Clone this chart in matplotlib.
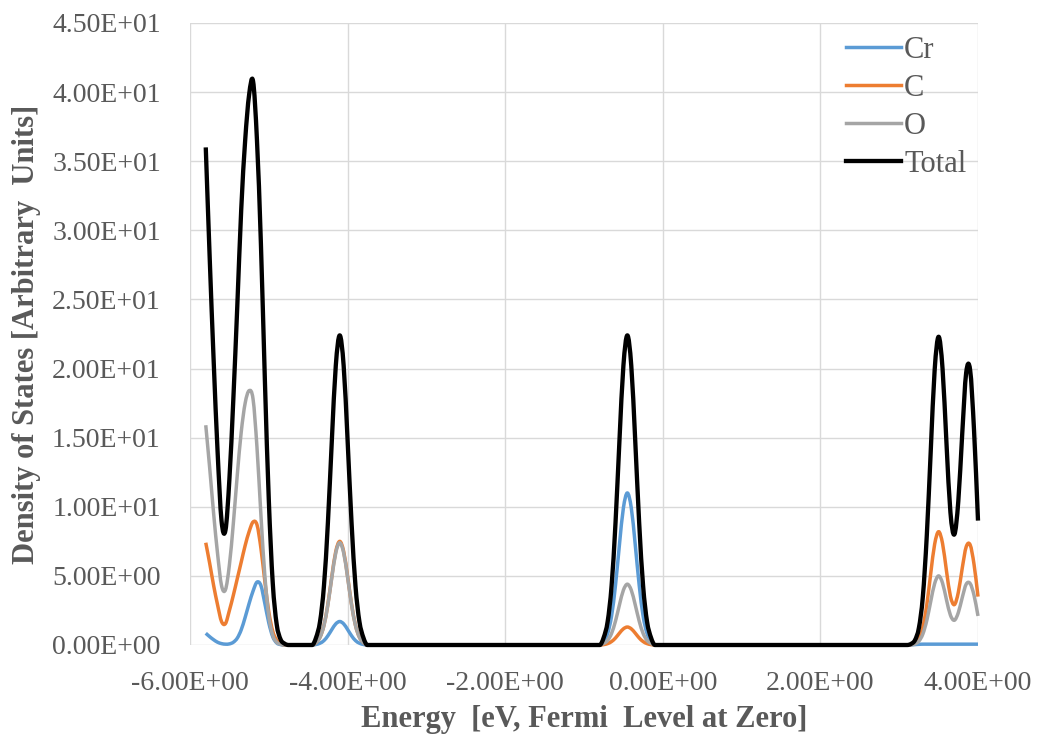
import numpy as np
import matplotlib
matplotlib.use("Agg")
import matplotlib.pyplot as plt
from matplotlib.path import Path
from matplotlib.patches import PathPatch
from matplotlib.lines import Line2D
from matplotlib.ticker import FuncFormatter

# ---------------- data ----------------
series_names = ["Cr", "C", "O", "Total"]

energy_r1 = [-5.80, -5.75, -5.70, -5.65, -5.60, -5.55, -5.50, -5.45, -5.40, -5.35,
             -5.30, -5.25, -5.20, -5.15, -5.10, -5.05, -5.00, -4.95, -4.90, -4.85,
             -4.80, -4.75, -4.70]
energy_r2 = [-4.45, -4.40, -4.35, -4.30, -4.25, -4.20, -4.15, -4.10, -4.05, -4.00,
             -3.95, -3.90, -3.85, -3.80, -3.75]
energy_r3 = [-0.80, -0.75, -0.70, -0.65, -0.60, -0.55, -0.50, -0.45, -0.40, -0.35,
             -0.30, -0.25, -0.20, -0.15, -0.10]
energy_r4 = [3.10, 3.15, 3.20, 3.25, 3.30, 3.35, 3.40, 3.45, 3.50, 3.55,
             3.60, 3.65, 3.70, 3.75, 3.80, 3.85, 3.90, 3.95, 4.00]

cr_r1 = [0.85, 0.60, 0.38, 0.20, 0.10, 0.06, 0.08, 0.20, 0.50, 1.10,
         2.00, 3.00, 3.90, 4.55, 4.30, 3.00, 1.60, 0.60, 0.15, 0.03, 0, 0, 0]
cr_r2 = [0, 0.04, 0.13, 0.32, 0.67, 1.12, 1.53, 1.70, 1.53, 1.12, 0.67, 0.32, 0.13, 0.04, 0]
cr_r3 = [0, 0.27, 0.83, 2.1, 4.35, 7.27, 9.92, 11.0, 9.92, 7.27, 4.35, 2.1, 0.83, 0.27, 0]
cr_r4 = [0, 0.01, 0.03, 0.05, 0.06, 0.06, 0.06, 0.06, 0.06, 0.06,
         0.06, 0.06, 0.06, 0.06, 0.06, 0.06, 0.06, 0.06, 0.06]

c_r1 = [7.4, 5.9, 4.3, 2.9, 1.7, 1.55, 2.5, 3.6, 4.8, 6.0,
        7.2, 8.2, 8.9, 8.7, 7.0, 4.6, 2.4, 1.0, 0.35, 0.10, 0, 0, 0]
c_r2 = [0, 0.18, 0.57, 1.43, 2.96, 4.96, 6.77, 7.5, 6.77, 4.96, 2.96, 1.43, 0.57, 0.18, 0]
c_r3 = [0, 0.03, 0.10, 0.25, 0.51, 0.86, 1.17, 1.3, 1.17, 0.86, 0.51, 0.25, 0.10, 0.03, 0]
c_r4 = [0, 0.03, 0.13, 0.46, 1.29, 2.9, 5.17, 7.3, 8.2, 7.35,
        5.36, 3.53, 2.92, 3.8, 5.56, 7.1, 7.25, 5.82, 3.5]

o_r1 = [15.9, 12.8, 9.5, 6.6, 4.3, 4.0, 5.8, 8.8, 12.3, 15.4,
        17.5, 18.4, 17.8, 14.3, 9.4, 5.0, 2.1, 0.7, 0.2, 0.05, 0, 0, 0]
o_r2 = [0, 0.18, 0.56, 1.41, 2.92, 4.89, 6.67, 7.4, 6.67, 4.89, 2.92, 1.41, 0.56, 0.18, 0]
o_r3 = [0, 0.11, 0.33, 0.84, 1.74, 2.91, 3.97, 4.4, 3.97, 2.91, 1.74, 0.84, 0.33, 0.11, 0]
o_r4 = [0, 0.02, 0.08, 0.28, 0.79, 1.77, 3.15, 4.45, 5.0, 4.48,
        3.27, 2.16, 1.79, 2.34, 3.43, 4.4, 4.45, 3.59, 2.1]

tot_r1 = [36.0, 28.0, 20.6, 14.0, 9.0, 8.3, 12.0, 17.8, 24.5, 31.5,
          36.5, 39.8, 40.8, 36.5, 29.0, 19.2, 10.5, 4.5, 1.5, 0.4, 0.1, 0, 0]
tot_r2 = [0, 0.54, 1.69, 4.28, 8.85, 14.8, 20.2, 22.4, 20.2, 14.8, 8.85, 4.28, 1.69, 0.54, 0]
tot_r3 = [0, 0.54, 1.69, 4.28, 8.85, 14.8, 20.2, 22.4, 20.2, 14.8, 8.85, 4.28, 1.69, 0.54, 0]
tot_r4 = [0, 0.08, 0.35, 1.24, 3.5, 7.9, 14.0, 19.9, 22.3, 20.0,
          14.6, 9.6, 8.0, 10.4, 15.3, 19.7, 19.9, 15.5, 9.0]

x_ticks = [-6, -4, -2, 0, 2, 4]
y_ticks = [0, 5, 10, 15, 20, 25, 30, 35, 40, 45]

# ---------------- styling ----------------
colors = {"Cr": "#5B9BD5", "C": "#ED7D31", "O": "#A5A5A5", "Total": "#000000"}
widths = {"Cr": 2.5, "C": 2.5, "O": 2.5, "Total": 3.1}
text_color = "#595959"
grid_color = "#D9D9D9"
font = "Liberation Serif"

energy = np.array(energy_r1 + energy_r2 + energy_r3 + energy_r4)
values = {
    "Cr": np.array(cr_r1 + cr_r2 + cr_r3 + cr_r4),
    "C": np.array(c_r1 + c_r2 + c_r3 + c_r4),
    "O": np.array(o_r1 + o_r2 + o_r3 + o_r4),
    "Total": np.array(tot_r1 + tot_r2 + tot_r3 + tot_r4),
}


def smooth_path(x, y):
    """Smoothed line through the data points (cubic Hermite Bezier, like a spreadsheet 'smoothed line')."""
    n = len(x)
    m = np.zeros(n)
    for i in range(n):
        if y[i] == 0:
            m[i] = 0.0  # density of states cannot go negative: flat at zero points
        elif i == 0:
            m[i] = (y[1] - y[0]) / (x[1] - x[0])
        elif i == n - 1:
            m[i] = (y[-1] - y[-2]) / (x[-1] - x[-2])
        else:
            m[i] = (y[i + 1] - y[i - 1]) / (x[i + 1] - x[i - 1])
    verts = [(x[0], y[0])]
    codes = [Path.MOVETO]
    for i in range(n - 1):
        h = x[i + 1] - x[i]
        verts += [(x[i] + h / 3, y[i] + m[i] * h / 3),
                  (x[i + 1] - h / 3, y[i + 1] - m[i + 1] * h / 3),
                  (x[i + 1], y[i + 1])]
        codes += [Path.CURVE4] * 3
    return Path(verts, codes)


fig = plt.figure(figsize=(10.39, 7.40), dpi=100)
ax = fig.add_axes([190 / 1039, 1 - 645 / 740, (978 - 190) / 1039, (645 - 23) / 740])

ax.set_xlim(-6, 4)
ax.set_ylim(0, 45)
ax.set_xticks(x_ticks)
ax.set_yticks(y_ticks)
ax.xaxis.set_major_formatter(FuncFormatter(lambda v, p: f"{v:.2E}"))
ax.yaxis.set_major_formatter(FuncFormatter(lambda v, p: f"{v:.2E}"))
ax.grid(True, color=grid_color, linewidth=1.0)
ax.set_axisbelow(True)
for s in ax.spines.values():
    s.set_visible(False)
ax.tick_params(length=0, labelsize=20, labelcolor=text_color)
ax.tick_params(axis="y", pad=21)
ax.tick_params(axis="x", pad=19)
for lab in ax.get_xticklabels() + ax.get_yticklabels():
    lab.set_fontfamily(font)

handles = []
for name in series_names:
    p = PathPatch(smooth_path(energy, values[name]), fill=False,
                  edgecolor=colors[name], linewidth=widths[name],
                  joinstyle="round", capstyle="butt", zorder=3, clip_on=False)
    ax.add_patch(p)
    handles.append(Line2D([], [], color=colors[name], linewidth=widths[name]))

ax.set_xlabel("Energy  [eV, Fermi  Level at Zero]", fontsize=22, fontweight="bold",
              color=text_color, fontfamily=font, labelpad=6)
ax.set_ylabel("Density of States [Arbitrary  Units]", fontsize=22, fontweight="bold",
              color=text_color, fontfamily=font, labelpad=8)

leg = ax.legend(handles, series_names, loc="upper left",
                bbox_to_anchor=((846 - 190) / (978 - 190), (645 - 36) / (645 - 23)),
                frameon=False, borderpad=0, borderaxespad=0, handlelength=1.8,
                handletextpad=0.1, labelspacing=0.29,
                prop={"family": font, "size": 22})
for t in leg.get_texts():
    t.set_color(text_color)

fig.savefig("out.png", dpi=100)
